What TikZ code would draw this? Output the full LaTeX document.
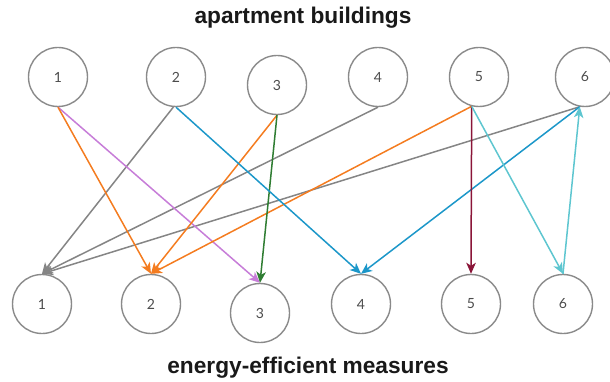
\documentclass[tikz,border=0pt]{standalone}
\usepackage{fontspec}
\setmainfont{Liberation Sans}
\newfontfamily\numfont{Lato}
\usepackage{xcolor}
\usepackage{tikz}
\usetikzlibrary{arrows.meta}

\definecolor{edgeorange}{HTML}{F47C20}
\definecolor{edgeorchid}{HTML}{C77DD8}
\definecolor{edgegray}{HTML}{858585}
\definecolor{edgeblue}{HTML}{1C97C9}
\definecolor{edgegreen}{HTML}{2F7D32}
\definecolor{edgemaroon}{HTML}{8A1538}
\definecolor{edgecyan}{HTML}{5EC6D0}
\definecolor{ringgray}{HTML}{8A8A8A}

\begin{document}
\begin{tikzpicture}[
  x=1pt, y=-1pt,
  >={Stealth[length=11pt,width=9.5pt,inset=3pt]},
  every node/.style={align=center},
  unit/.style={circle, draw=ringgray, line width=1.4pt, minimum size=59pt, inner sep=0pt,
    font=\numfont\fontsize{14}{16}\selectfont, text=black!70},
  heading/.style={font=\bfseries\fontsize{22.7}{26}\selectfont, text=black!90},
  arr/.style={->, draw=#1, line width=1.5pt}
]

  \clip (0,0) rectangle (610,382);
  \useasboundingbox (0,0) rectangle (610,382);

  % Headings
  \node[heading] (top) at (303,18) {apartment buildings};
  \node[heading] (bottom) at (308,368) {energy-efficient measures};

  % Apartment buildings
  \node[unit] (t1) at (58,77) {1};
  \node[unit] (t2) at (176,77) {2};
  \node[unit] (t3) at (277,85) {3};
  \node[unit] (t4) at (378,77) {4};
  \node[unit] (t5) at (479,77) {5};
  \node[unit] (t6) at (585,77) {6};

  % Energy-efficient measures
  \node[unit] (b1) at (42,304) {1};
  \node[unit] (b2) at (151,304) {2};
  \node[unit] (b3) at (260,313) {3};
  \node[unit] (b4) at (361,304) {4};
  \node[unit] (b5) at (471,304) {5};
  \node[unit] (b6) at (563,304) {6};

  % Connecting Arrows
  \draw[arr=edgegray] (t2.265) -- (b1.north);
  \draw[arr=edgegray] (t4.south) -- (b1.north);
  \draw[arr=edgegray] (t6.260) -- (b1.north);
  \draw[arr=edgeorchid] (t1.south) -- (b3.north);
  \draw[arr=edgeorange] (t1.south) -- (b2.north);
  \draw[arr=edgeorange] (t3.south) -- (b2.north);
  \draw[arr=edgeorange] (t5.256) -- (b2.north);
  \draw[arr=edgegreen] (t3.south) -- (b3.north);
  \draw[arr=edgeblue] (t2.south) -- (b4.north);
  \draw[arr=edgeblue] (t6.260) -- (b4.north);
  \draw[arr=edgemaroon] (t5.256) -- (b5.north);
  \draw[arr=edgecyan] (t5.256) -- (b6.north);
  \draw[arr=edgecyan] (b6.north) -- (t6.260);

\end{tikzpicture}
\end{document}
